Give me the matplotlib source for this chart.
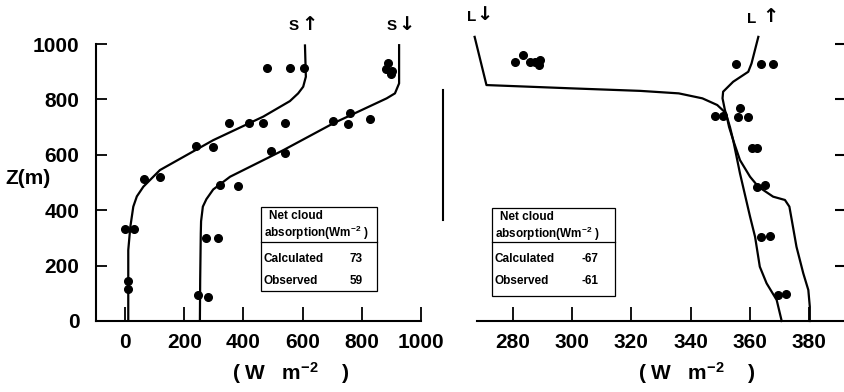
import matplotlib.pyplot as plt
from matplotlib.lines import Line2D
from matplotlib.patches import Rectangle

# ---- datos panel izquierdo (onda corta) ----
s_up_w = [608, 611, 602, 585, 557, 467, 298, 118, 62, 40, 28, 18, 11, 11]
s_up_z = [995, 882, 846, 822, 794, 738, 653, 545, 485, 450, 413, 340, 256, 0]
s_dn_w = [926, 926, 912, 884, 704, 535, 355, 298, 275, 263, 257, 256, 254, 253]
s_dn_z = [996, 858, 822, 804, 714, 617, 521, 475, 440, 413, 360, 317, 150, 0]

obs_s_up_w = [481, 556, 606, 350, 418, 465, 542, 239, 296, 65, 118, 0, 31, 9, 11]
obs_s_up_z = [913, 913, 913, 715, 715, 715, 715, 632, 628, 514, 521, 331, 331, 144, 115]
obs_s_dn_w = [889, 882, 902, 899, 703, 761, 754, 828, 494, 542, 321, 381, 272, 315, 246, 282]
obs_s_dn_z = [931, 910, 903, 892, 722, 751, 711, 729, 614, 606, 491, 487, 300, 301, 93, 87]

# ---- datos panel derecho (onda larga) ----
l_dn_w = [267, 271, 300, 323, 336, 344, 349, 352, 353, 354.4, 356.7, 360.1, 361.8, 363.4, 365.7, 369.1, 370.8]
l_dn_z = [1026, 852, 840, 831, 822, 804, 780, 750, 701, 653, 533, 377, 304, 196, 136, 76, 0]
l_up_w = [362.9, 360.6, 359.5, 354.4, 351.0, 350.8, 351.6, 353.3, 354.4, 356.7, 360.1, 362.9,
          367.9, 371.9, 373.4, 374.2, 375.8, 378.1, 379.8, 380.3, 380.3]
l_up_z = [1026, 930, 900, 864, 828, 804, 762, 701, 653, 581, 521, 485,
          449, 437, 413, 365, 268, 172, 112, 52, 0]

obs_l_dn_w = [280.7, 283.3, 285.7, 287.4, 289.1, 288.6, 348.2, 350.8]
obs_l_dn_z = [936, 960, 936, 936, 942, 924, 740, 740]
obs_l_up_w = [355.3, 363.7, 368.0, 356.7, 355.9, 359.5, 360.6, 362.3, 362.5, 365.1,
              363.7, 366.8, 369.4, 372.2]
obs_l_up_z = [928, 928, 928, 768, 738, 735, 623, 623, 485, 491, 302, 307, 93, 97]

left_xticks = [0, 200, 400, 600, 800, 1000]
right_xticks = [280, 300, 320, 340, 360, 380]
zticks = [0, 200, 400, 600, 800, 1000]

calc_sw, obs_sw = 73, 59
calc_lw, obs_lw = -67, -61

W, H = 845, 392
FONT = 'Liberation Sans'

plt.rcParams['mathtext.fontset'] = 'custom'
plt.rcParams['mathtext.rm'] = 'Liberation Sans:bold'
plt.rcParams['mathtext.default'] = 'rm'


def fx(px):
    return px / W


def fy(py):
    return 1 - py / H


fig = plt.figure(figsize=(W / 100, H / 100), dpi=100)

# y: 0 -> 321 px, 0.277 px por metro
ybot, ytop = 0, 1040
ax1 = fig.add_axes([fx(96), fy(321), fx(421) - fx(96), (321 - 33) / H])
ax2 = fig.add_axes([fx(477), fy(321), fx(845) - fx(477), (321 - 33) / H])

for ax in (ax1, ax2):
    ax.set_ylim(ybot, ytop)
    ax.spines['top'].set_visible(False)
    ax.spines['right'].set_visible(False)
    ax.spines['bottom'].set_linewidth(1.5)
    ax.spines['left'].set_linewidth(1.5)
    ax.tick_params(axis='x', direction='in', length=10, width=1.3, pad=9)
    ax.tick_params(axis='y', direction='in', length=8, width=1.3, pad=12)

# ---- panel izquierdo ----
ax1.set_xlim(-98, 1000)
ax1.spines['left'].set_bounds(0, 1000)
ax1.plot(s_up_w, s_up_z, color='black', lw=1.6)
ax1.plot(s_dn_w, s_dn_z, color='black', lw=1.6)
ax1.plot(obs_s_up_w, obs_s_up_z, 'o', color='black', ms=5.5)
ax1.plot(obs_s_dn_w, obs_s_dn_z, 'o', color='black', ms=5.5)
ax1.set_xticks(left_xticks)
ax1.set_yticks(zticks)
ax1.set_xticklabels([str(t) for t in left_xticks], fontsize=15, fontweight='bold', family=FONT)
ax1.set_yticklabels([str(t) for t in zticks], fontsize=15, fontweight='bold', family=FONT)

# ---- panel derecho ----
ax2.set_xlim(267.8, 392.2)
ax2.spines['left'].set_visible(False)
ax2.plot(l_dn_w, l_dn_z, color='black', lw=1.6, clip_on=False)
ax2.plot(l_up_w, l_up_z, color='black', lw=1.6, clip_on=False)
ax2.plot(obs_l_dn_w, obs_l_dn_z, 'o', color='black', ms=5.5)
ax2.plot(obs_l_up_w, obs_l_up_z, 'o', color='black', ms=5.5)
ax2.set_xticks(right_xticks)
ax2.set_xticklabels([str(t) for t in right_xticks], fontsize=15, fontweight='bold', family=FONT)
ax2.yaxis.tick_right()
ax2.set_yticks(zticks[1:])
ax2.set_yticklabels([])
ax2.tick_params(axis='y', direction='in', length=7, width=1.5)

# ---- textos ----
fig.text(fx(5), fy(178), 'Z(m)', fontsize=15, fontweight='bold', family=FONT,
         va='center', ha='left')
fig.text(fx(291), fy(373), '( W   m$^{-2}$    )', fontsize=15, fontweight='bold',
         family=FONT, ha='center', va='center')
fig.text(fx(697), fy(373), '( W   m$^{-2}$    )', fontsize=15, fontweight='bold',
         family=FONT, ha='center', va='center')

# etiquetas de las curvas
fig.text(fx(289), fy(26), 'S', fontsize=11, fontweight='bold', family=FONT, ha='left', va='center')
fig.text(fx(301), fy(24), '↑', fontsize=14, fontweight='bold', family='DejaVu Sans', ha='left', va='center')
fig.text(fx(387), fy(26), 'S', fontsize=11, fontweight='bold', family=FONT, ha='left', va='center')
fig.text(fx(398), fy(24), '↓', fontsize=14, fontweight='bold', family='DejaVu Sans', ha='left', va='center')
fig.text(fx(467), fy(17), 'L', fontsize=11, fontweight='bold', family=FONT, ha='left', va='center')
fig.text(fx(476), fy(15), '↓', fontsize=14, fontweight='bold', family='DejaVu Sans', ha='left', va='center')
fig.text(fx(747), fy(19), 'L', fontsize=11, fontweight='bold', family=FONT, ha='left', va='center')
fig.text(fx(762), fy(17), '↑', fontsize=14, fontweight='bold', family='DejaVu Sans', ha='left', va='center')

# linea vertical suelta entre paneles
fig.add_artist(Line2D([fx(443), fx(443)], [fy(90), fy(220)], color='black', lw=1.5))


# ---- cuadros de absorcion ----
def caja(x0, x1, y0, y1, ysep, calc, obs):
    fig.add_artist(Rectangle((fx(x0), fy(y1)), fx(x1) - fx(x0), fy(y0) - fy(y1),
                             fill=False, edgecolor='black', lw=0.9))
    fig.add_artist(Line2D([fx(x0), fx(x1)], [fy(ysep), fy(ysep)], color='black', lw=0.9))
    kw = dict(fontsize=8.5, fontweight='bold', family=FONT, va='center', ha='left')
    fig.text(fx(x0 + 8), fy(y0 + 9), 'Net cloud', **kw)
    fig.text(fx(x0 + 3), fy(y0 + 26), 'absorption(Wm$^{-2}$ )', **kw)
    fig.text(fx(x0 + 3), fy(ysep + 17), 'Calculated', **kw)
    fig.text(fx(x0 + 3), fy(ysep + 39), 'Observed', **kw)
    fig.text(fx(x0 + 89), fy(ysep + 17), str(calc), **kw)
    fig.text(fx(x0 + 89), fy(ysep + 39), str(obs), **kw)


caja(261, 377, 207, 291, 242, calc_sw, obs_sw)
caja(492, 615, 208, 296, 242, calc_lw, obs_lw)

fig.savefig('out.png', dpi=100)
